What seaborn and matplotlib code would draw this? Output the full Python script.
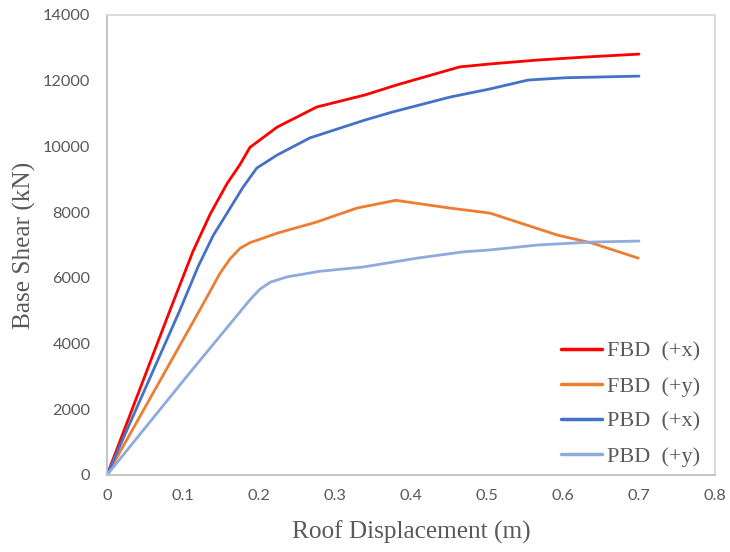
import matplotlib
matplotlib.use("Agg")
import matplotlib.pyplot as plt
import seaborn as sns
import pandas as pd

# ---- data ----
fbd_x_disp = [0, 0.083, 0.113, 0.136, 0.158, 0.175, 0.188, 0.224, 0.276, 0.34, 0.381, 0.464, 0.504, 0.567, 0.629, 0.70]
fbd_x_shear = [0, 5020, 6800, 7950, 8870, 9450, 9970, 10590, 11200, 11570, 11870, 12420, 12510, 12630, 12720, 12810]

fbd_y_disp = [0, 0.122, 0.149, 0.162, 0.175, 0.188, 0.224, 0.276, 0.329, 0.38, 0.451, 0.504, 0.593, 0.638, 0.699]
fbd_y_shear = [0, 5020, 6150, 6580, 6900, 7070, 7360, 7700, 8125, 8360, 8125, 7970, 7300, 7060, 6600]

pbd_x_disp = [0, 0.096, 0.12, 0.14, 0.158, 0.179, 0.197, 0.224, 0.267, 0.339, 0.376, 0.451, 0.504, 0.554, 0.603, 0.70]
pbd_x_shear = [0, 5020, 6350, 7300, 7970, 8760, 9340, 9740, 10260, 10800, 11050, 11500, 11750, 12020, 12090, 12140]

pbd_y_disp = [0, 0.105, 0.188, 0.201, 0.215, 0.237, 0.28, 0.337, 0.408, 0.468, 0.504, 0.567, 0.638, 0.70]
pbd_y_shear = [0, 3000, 5330, 5650, 5870, 6030, 6200, 6330, 6600, 6790, 6850, 7000, 7090, 7120]

series_names = ["FBD  (+x)", "FBD  (+y)", "PBD  (+x)", "PBD  (+y)"]
series_colors = ["#FF0000", "#ED7D31", "#4472C4", "#8FAADC"]

x_ticks = [0, 0.1, 0.2, 0.3, 0.4, 0.5, 0.6, 0.7, 0.8]
y_ticks = [0, 2000, 4000, 6000, 8000, 10000, 12000, 14000]

# ---- build table ----
frames = []
for name, xs, ys in zip(series_names,
                        [fbd_x_disp, fbd_y_disp, pbd_x_disp, pbd_y_disp],
                        [fbd_x_shear, fbd_y_shear, pbd_x_shear, pbd_y_shear]):
    frames.append(pd.DataFrame({"disp": xs, "shear": ys, "series": name}))
df = pd.concat(frames, ignore_index=True)

sns.set_style("white")
plt.rcParams["font.family"] = ["Lato", "DejaVu Sans"]

fig = plt.figure(figsize=(7.3, 5.52), dpi=100)
ax = fig.add_axes([107 / 730, 1 - 475 / 552, (715 - 107) / 730, (475 - 15) / 552])

sns.lineplot(data=df, x="disp", y="shear", hue="series", hue_order=series_names,
             palette=dict(zip(series_names, series_colors)), sort=False,
             estimator=None, linewidth=2.0, ax=ax, legend=True)
for line in ax.get_lines():
    line.set_solid_joinstyle("round")

ax.set_xlim(0, 0.8)
ax.set_ylim(0, 14000)
ax.set_xticks(x_ticks)
ax.set_xticklabels([("%g" % v) for v in x_ticks])
ax.set_yticks(y_ticks)
ax.set_yticklabels([str(v) for v in y_ticks])
ax.tick_params(axis="both", length=0, labelsize=11.7, colors="#595959")
ax.tick_params(axis="y", pad=12)
ax.tick_params(axis="x", pad=10)

for side in ["left", "bottom"]:
    ax.spines[side].set_color("#BFBFBF")
    ax.spines[side].set_linewidth(1.3)
for side in ["top", "right"]:
    ax.spines[side].set_color("#D9D9D9")
    ax.spines[side].set_linewidth(1.3)
ax.grid(False)

serif = ["Liberation Serif", "DejaVu Serif"]
ax.set_xlabel("Roof Displacement (m)", fontsize=18.2, family=serif, color="#595959")
ax.set_ylabel("Base Shear (kN)", fontsize=18.2, family=serif, color="#595959")
ax.xaxis.set_label_coords(0.5, -0.1)
ax.yaxis.set_label_coords(-0.117, 0.5)

leg = ax.legend(loc="lower right", bbox_to_anchor=(700 / 730, 1 - 467 / 552),
                bbox_transform=fig.transFigure, frameon=False,
                prop={"family": serif, "size": 16}, labelcolor="#595959",
                handlelength=1.85, handletextpad=0.2, labelspacing=0.66,
                borderaxespad=0, borderpad=0)
for line in leg.get_lines():
    line.set_linewidth(2.5)

fig.savefig("out.png", dpi=100)
